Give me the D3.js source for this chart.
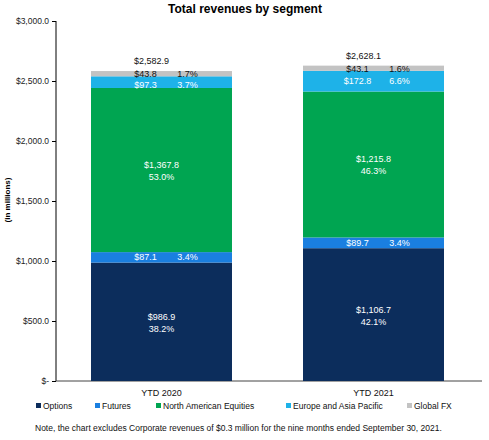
<!DOCTYPE html>
<html><head><meta charset="utf-8">
<script src="https://cdn.jsdelivr.net/npm/d3@7"></script>
<style>body{margin:0;background:#fff;font-family:Arial,"Liberation Sans",sans-serif;}</style>
</head><body>
<svg id="chart" width="489" height="440"></svg>
<script>
// data
var categories = ["YTD 2020", "YTD 2021"];
var segments = ["Options", "Futures", "North American Equities", "Europe and Asia Pacific", "Global FX"];
var options = [986.9, 1106.7];
var futures = [87.1, 89.7];
var nae = [1367.8, 1215.8];
var eap = [97.3, 172.8];
var fx = [43.8, 43.1];
var totals = ["$2,582.9", "$2,628.1"];
var pctOptions = ["38.2%", "42.1%"];
var pctFutures = ["3.4%", "3.4%"];
var pctNae = ["53.0%", "46.3%"];
var pctEap = ["3.7%", "6.6%"];
var pctFx = ["1.7%", "1.6%"];
var yTicks = [0, 500, 1000, 1500, 2000, 2500, 3000];

var colors = ["#0c2d5c", "#1a7fe0", "#00a551", "#1eb2e8", "#c3c3c3"];
var series = [options, futures, nae, eap, fx];
var pcts = [pctOptions, pctFutures, pctNae, pctEap, pctFx];

var svg = d3.select("#chart");
var x = d3.scaleBand().domain(categories).range([91, 444]).paddingInner(0.335).paddingOuter(0);
var y = d3.scaleLinear().domain([0, 3000]).range([381, 21]);

svg.append("text").attr("x", 245).attr("y", 13).attr("text-anchor", "middle")
   .attr("font-size", "12px").attr("font-weight", "bold").text("Total revenues by segment");

// y axis
var ya = svg.append("g").attr("transform", "translate(56,0)")
   .call(d3.axisLeft(y).tickValues(yTicks).tickSize(4)
   .tickFormat(function(d){ return d === 0 ? "$-" : "$" + d3.format(",.1f")(d); }));
ya.selectAll("text").attr("font-size", "8.5px").attr("fill", "#222").attr("font-family", "Arial");
ya.select(".domain").attr("d", "M0,21V381");
svg.append("line").attr("x1", 56).attr("x2", 482).attr("y1", 381).attr("y2", 381).attr("stroke", "#444");

svg.append("text").attr("transform", "translate(10,200) rotate(-90)").attr("text-anchor", "middle")
   .attr("font-size", "8px").attr("font-weight", "bold").text("(in millions)");

categories.forEach(function(c, i) {
  var base = 0;
  var bx = x(c), bw = x.bandwidth(), cx = bx + bw / 2;
  series.forEach(function(s, k) {
    var v = s[i];
    svg.append("rect").attr("x", bx).attr("width", bw)
       .attr("y", y(base + v)).attr("height", y(base) - y(base + v)).attr("fill", colors[k]);
    var mid = y(base + v / 2);
    var fill = k === 4 ? "#111" : "#fff";
    var lbl = "$" + d3.format(",.1f")(v);
    if (k === 0 || k === 2) {
      svg.append("text").attr("x", cx).attr("y", mid - 2).attr("text-anchor", "middle")
         .attr("font-size", "9px").attr("fill", fill).text(lbl);
      svg.append("text").attr("x", cx).attr("y", mid + 10).attr("text-anchor", "middle")
         .attr("font-size", "9px").attr("fill", fill).text(pcts[k][i]);
    } else {
      var ty = k === 4 ? y(base) + 1 : (k === 3 ? Math.max(mid + 3, y(base + v) + 12) : mid + 3);
      svg.append("text").attr("x", cx - 16).attr("y", ty).attr("text-anchor", "middle")
         .attr("font-size", "9px").attr("fill", fill).text(lbl);
      svg.append("text").attr("x", cx + 26).attr("y", ty).attr("text-anchor", "middle")
         .attr("font-size", "9px").attr("fill", fill).text(pcts[k][i]);
    }
    base += v;
  });
  svg.append("text").attr("x", cx - 10).attr("y", y(base) - 7).attr("text-anchor", "middle")
     .attr("font-size", "9px").attr("fill", "#111").text(totals[i]);
  svg.append("text").attr("x", cx).attr("y", 396).attr("text-anchor", "middle")
     .attr("font-size", "9px").attr("fill", "#111").text(c);
});

// legend
var lx = [36, 95, 156, 286, 407];
segments.forEach(function(s, k) {
  svg.append("rect").attr("x", lx[k]).attr("y", 403).attr("width", 5).attr("height", 5).attr("fill", colors[k]);
  svg.append("text").attr("x", lx[k] + 7).attr("y", 409).attr("font-size", "8.5px").attr("fill", "#111").text(s);
});

svg.append("text").attr("x", 35).attr("y", 431).attr("font-size", "8.5px").attr("fill", "#111")
   .text("Note, the chart excludes Corporate revenues of $0.3 million for the nine months ended September 30, 2021.");
</script>
</body></html>
